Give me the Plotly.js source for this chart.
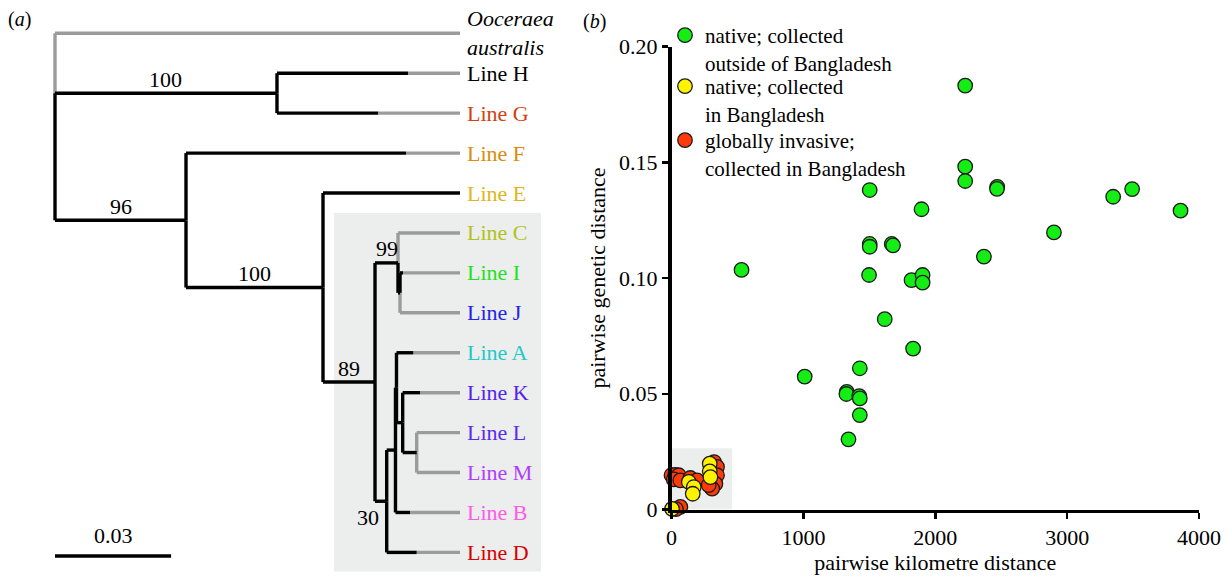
<!DOCTYPE html>
<html><head><meta charset="utf-8">
<script src="https://cdn.plot.ly/plotly-3.0.1.min.js"></script>
<style>html,body{margin:0;padding:0;background:#fff}#chart{width:1229px;height:576px}</style>
</head><body><div id="chart"></div>
<script>
// ---------- panel (a): phylogeny (branch positions in substitutions/site) ----------
const nodeNames   = ['root','Oo','nHG','H','G','n96','F','n100','E','n89','n99','C','nIJ','I','J','n30','nAB','nAK','A','nKLM','K','nLM','L','M','B','D'];
const nodeParents = [null,'root','root','nHG','nHG','root','n96','n96','n100','n100','n89','n99','n99','nIJ','nIJ','n89','n30','nAB','nAK','nAK','nKLM','nKLM','nLM','nLM','nAB','n30'];
const nodeDepths  = [0,0.10465,0.05736,0.10465,0.10465,0.03385,0.10465,0.06925,0.10465,0.08269,0.08863,0.10465,0.08915,0.10465,0.10465,0.08571,0.08798,0.08824,0.10465,0.08984,0.10465,0.09346,0.10465,0.10465,0.10465,0.10465];
// where the black (supported) part of each terminal branch ends; null = internal node
const tipBlackEnds = [null,0,null,0.09121,0.08346,null,0.09070,null,0.10465,null,null,0.08863,null,0.08992,0.08915,null,null,null,0.09258,null,0.09432,null,0.09346,0.09346,0.09173,0.09346];
const tipIds    = ['Oo','H','G','F','E','C','I','J','A','K','L','M','B','D'];
const tipLabels = ['<i>Ooceraea</i><br><i>australis</i>','Line H','Line G','Line F','Line E','Line C','Line I','Line J','Line A','Line K','Line L','Line M','Line B','Line D'];
const tipColors = ['#000000','#000000','#d6400f','#de8a0c','#dfb520','#b2c21a','#22e022','#2222ee','#22c8c8','#5522ee','#5a2bee','#b03cff','#ff5ae6','#d60000'];
const supportNodes  = ['nHG','n96','n100','n89','n99','n30'];
const supportValues = ['100','96','100','89','99','30'];
const scaleBarLength = 0.03;

// ---------- panel (b): pairwise distances ----------
const greenKm   = [1503,2227,2227,2227,2470,2468,1896,3349,3493,3860,2900,2369,1503,1503,1670,1680,531,1498,1820,1904,1904,1617,1832,1428,1010,1329,1326,1424,1428,1428,1342];
const greenDist = [0.1380,0.1831,0.1481,0.1419,0.1394,0.1385,0.1297,0.1351,0.1384,0.1291,0.1197,0.1092,0.1147,0.1135,0.1147,0.1141,0.1035,0.1013,0.0991,0.1013,0.0980,0.0822,0.0695,0.0610,0.0574,0.0508,0.0499,0.0490,0.0480,0.0408,0.0303];
const redKm     = [0,29,55,17,67,143,194,323,345,345,333,308,282,67,34];
const redDist   = [0.0148,0.0150,0.0148,0.0130,0.0126,0.0136,0.0126,0.0205,0.0184,0.0148,0.0111,0.0090,0.0105,0.0011,0.0002];
const yellowKm  = [4,131,169,161,290,290,295];
const yellowDist= [0.0003,0.0119,0.0097,0.0068,0.0198,0.0165,0.0140];
const legendNames = ['native; collected<br>outside of Bangladesh','native; collected<br>in Bangladesh','globally invasive;<br>collected in Bangladesh'];
const xTickVals = [0,1000,2000,3000,4000];
const yTickVals = [0,0.05,0.10,0.15,0.20];
const yTickText = ['0','0.05','0.10','0.15','0.20'];

// ---------- tree layout ----------
const idx = {}; nodeNames.forEach((n,i)=>idx[n]=i);
const kids = nodeNames.map(()=>[]);
nodeParents.forEach((p,i)=>{ if(p!==null) kids[idx[p]].push(i); });
const yPos = new Array(nodeNames.length);
let tipCount = 0;
function place(i){
  if(kids[i].length===0){ yPos[i]=tipCount++; return yPos[i]; }
  const ys = kids[i].map(place);
  yPos[i] = ys.length===3 ? ys[1] : (ys[0]+ys[ys.length-1])/2;
  return yPos[i];
}
place(idx.root);
const bx=[],by=[],gx=[],gy=[];
function seg(ax,ay,x0,y0,x1,y1){ ax.push(x0,x1,null); ay.push(y0,y1,null); }
nodeNames.forEach((n,i)=>{
  const p = nodeParents[i]; if(p===null) return;
  const pi = idx[p];
  const x0 = nodeDepths[pi], x1 = nodeDepths[i], y = yPos[i];
  const be = tipBlackEnds[i]===null ? x1 : Math.max(x0, tipBlackEnds[i]);
  const allGray = be<=x0;
  if(allGray) seg(gx,gy,x0,yPos[pi],x0,y); else seg(bx,by,x0,yPos[pi],x0,y);
  if(be>x0) seg(bx,by,x0,y,be,y);
  if(x1>be) seg(gx,gy,be,y,x1,y);
});

const serif = 'Liberation Serif, Times New Roman, serif';
const mk = (c)=>({color:c,size:14.5,line:{color:'#1a1a1a',width:1.3}});
const traces = [
  {x:gx,y:gy,xaxis:'x2',yaxis:'y2',mode:'lines',line:{color:'#9b9b9b',width:3.4},hoverinfo:'skip',showlegend:false},
  {x:bx,y:by,xaxis:'x2',yaxis:'y2',mode:'lines',line:{color:'#000',width:3.4},hoverinfo:'skip',showlegend:false},
  {x:greenKm,y:greenDist,mode:'markers',name:legendNames[0],legend:'legend',cliponaxis:false,marker:mk('#14ee14')},
  {x:redKm,y:redDist,mode:'markers',name:legendNames[2],legend:'legend3',cliponaxis:false,marker:mk('#ff3a0a')},
  {x:yellowKm,y:yellowDist,mode:'markers',name:legendNames[1],legend:'legend2',cliponaxis:false,marker:mk('#fff200')}
];

const ann = [];
tipIds.forEach((t,k)=>{
  const i = idx[t];
  ann.push({x:nodeDepths[i],y:yPos[i],xref:'x2',yref:'y2',text:tipLabels[k],showarrow:false,align:'left',
    xanchor:'left',yanchor:'middle',xshift:5,font:{family:serif,size:22,color:tipColors[k]}});
});
supportNodes.forEach((n,k)=>{
  const i = idx[n], pi = idx[nodeParents[i]];
  if(n==='n30'){
    ann.push({x:nodeDepths[i],y:yPos[i],xref:'x2',yref:'y2',text:supportValues[k],showarrow:false,
      xanchor:'right',yanchor:'middle',xshift:-6,yshift:-16,font:{family:serif,size:22,color:'#000'}});
  } else {
    ann.push({x:(nodeDepths[i]+nodeDepths[pi])/2,y:yPos[i],xref:'x2',yref:'y2',text:supportValues[k],showarrow:false,
      xanchor:'center',yanchor:'middle',yshift:14,font:{family:serif,size:22,color:'#000'}});
  }
});
ann.push({x:scaleBarLength/2,y:13.09,xref:'x2',yref:'y2',text:String(scaleBarLength),showarrow:false,
  yshift:20,font:{family:serif,size:22,color:'#000'}});
ann.push({x:19/1229,y:1-20/576,xref:'paper',yref:'paper',text:'(<i>a</i>)',showarrow:false,xanchor:'center',yanchor:'middle',font:{family:serif,size:20,color:'#000'}});
ann.push({x:594/1229,y:1-21/576,xref:'paper',yref:'paper',text:'(<i>b</i>)',showarrow:false,xanchor:'center',yanchor:'middle',font:{family:serif,size:20,color:'#000'}});

const legStyle = (top)=>({x:665/1229,y:1-top/576,xanchor:'left',yanchor:'top',bgcolor:'rgba(0,0,0,0)',
    font:{family:serif,size:21,color:'#000'},valign:'top',itemclick:false});
const layout = {
  width:1229,height:576,margin:{l:0,r:0,t:0,b:0},
  paper_bgcolor:'#fff',plot_bgcolor:'rgba(0,0,0,0)',
  font:{family:serif,size:22,color:'#000'},
  showlegend:true,
  legend:legStyle(15),
  legend2:legStyle(66),
  legend3:legStyle(120),
  xaxis2:{domain:[0,600/1229],range:[-55/3870,545/3870],visible:false,fixedrange:true,anchor:'y2'},
  yaxis2:{domain:[0,1],range:[13.591,-0.834],visible:false,fixedrange:true,anchor:'x2'},
  xaxis:{domain:[671.5/1229,1199/1229],range:[0,4000],anchor:'y',showline:true,linecolor:'#000',linewidth:3.5,
    showgrid:false,zeroline:false,ticks:'outside',ticklen:6,tickwidth:2.5,tickcolor:'#000',
    tickvals:xTickVals,tickfont:{family:serif,size:22},
    title:{text:'pairwise kilometre distance',font:{family:serif,size:22},standoff:6}},
  yaxis:{domain:[66.5/576,529.5/576],range:[0,0.2],anchor:'x',showline:true,linecolor:'#000',linewidth:3.5,
    showgrid:false,zeroline:false,ticks:'outside',ticklen:6,tickwidth:2.5,tickcolor:'#000',
    tickvals:yTickVals,ticktext:yTickText,tickfont:{family:serif,size:22},
    title:{text:'pairwise genetic distance',font:{family:serif,size:22},standoff:8}},
  shapes:[
    {type:'rect',xref:'x2',yref:'y2',x0:0.0721,x1:0.1256,y0:4.5,y1:13.48,fillcolor:'#eceeed',line:{width:0},layer:'below'},
    {type:'line',xref:'x2',yref:'y2',x0:0,x1:scaleBarLength,y0:13.09,y1:13.09,line:{color:'#000',width:3.5}},
    {type:'rect',xref:'x',yref:'y',x0:0,x1:460,y0:0,y1:0.0265,fillcolor:'#eceeed',line:{width:0},layer:'below'}
  ],
  annotations:ann
};
Plotly.newPlot('chart',traces,layout,{displayModeBar:false,staticPlot:true});
</script></body></html>
